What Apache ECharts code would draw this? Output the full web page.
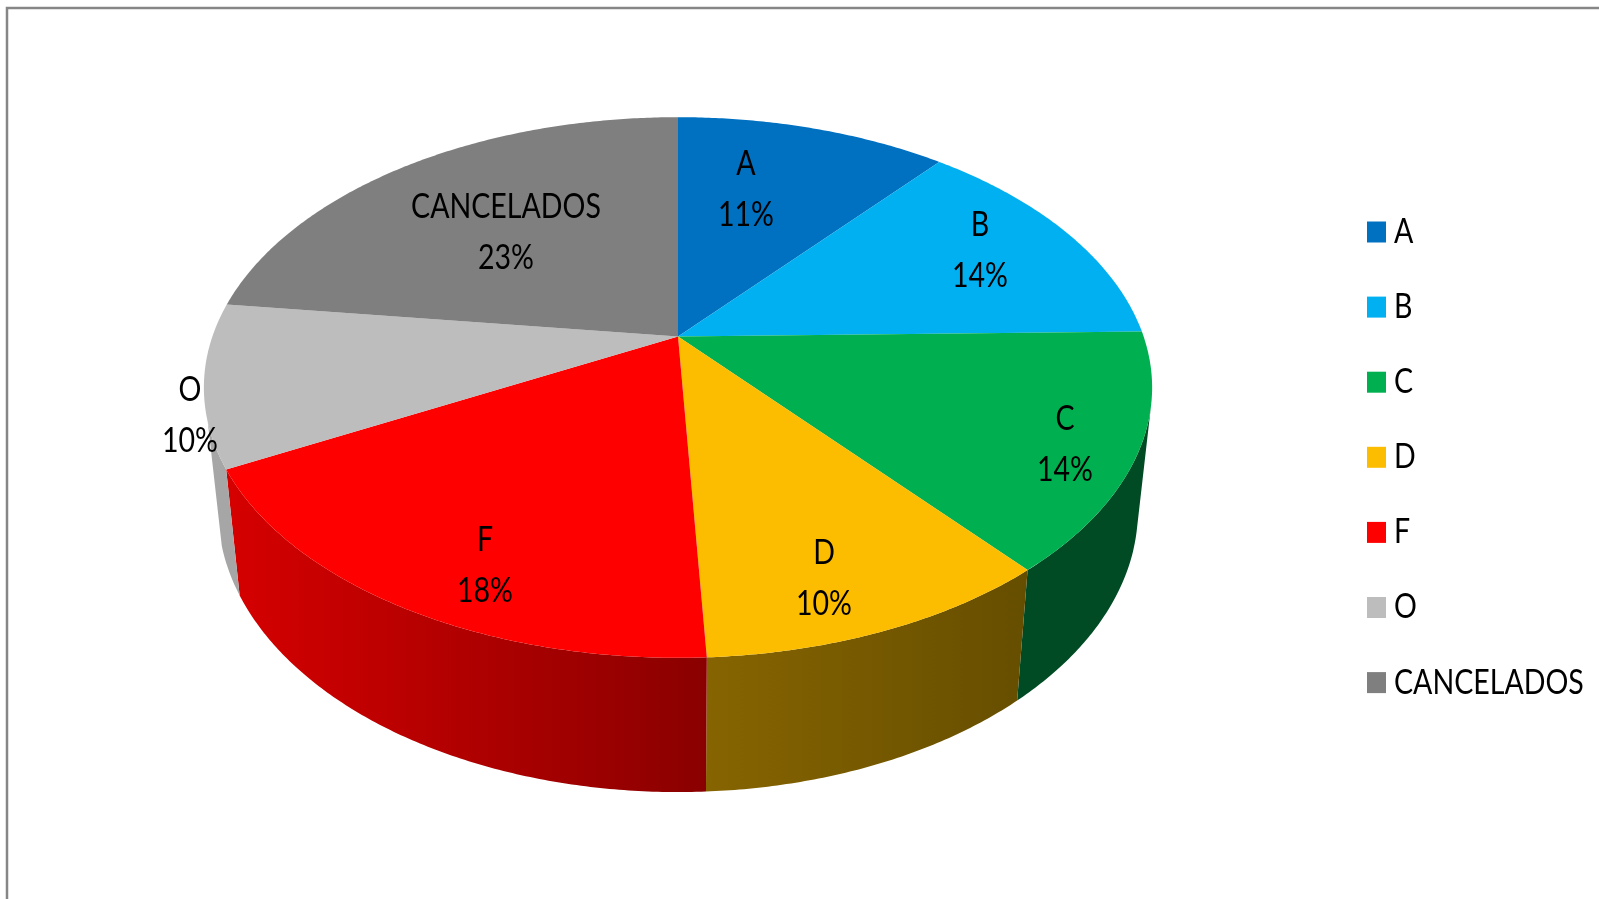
<!DOCTYPE html>
<html><head><meta charset="utf-8">
<style>html,body{margin:0;padding:0;background:#fff}#c{width:1599px;height:899px}</style>
<script src="https://cdn.jsdelivr.net/npm/echarts@6/dist/echarts.min.js"></script>
</head><body><div id="c"></div>
<script>
const categories = ['A','B','C','D','F','O','CANCELADOS'];
const values = [11.1,13.6,14.2,10.3,18.1,9.7,23];
const topColors = ['#0070C0','#00B0F0','#00B050','#FCBD00','#FF0000','#BDBDBD','#7F7F7F'];
const wallColors = [null,null,['#004A24','#004A24'],['#866400','#664E00'],['#D60000','#8A0000'],['#A6A6A6','#A6A6A6'],null];
const labelCentres = [[746,190],[980,251],[1065,445],[824,579],[485,566],[190,416],[506,233]];
const FONT = 'Lato,"Liberation Sans",sans-serif';
const FONT_SIZE = 34, TEXT_SQUEEZE = 0.84;

const total = values.reduce((s,v)=>s+v,0);
const P = {cx:678, cy:336.5, a:465.6, b:260.7, k:0.1887, y0:456.8, a2:451.7, b2:272};
const wallFrom = 105, wallTo = 252;
function rad(d){return d*Math.PI/180;}
function upperRim(d){const u=Math.sin(rad(d)),v=Math.cos(rad(d)),q=1+P.k*v;return [P.cx+P.a*u/q,P.cy-P.b*v/q];}
function lowerRim(d){const u=Math.sin(rad(d)),v=Math.cos(rad(d)),q=1+P.k*v;return [P.cx+P.a2*u/q,P.y0-P.b2*v/q];}
function arc(fn,a,b){const n=Math.max(2,Math.ceil(Math.abs(b-a)*2)),o=[];for(let i=0;i<=n;i++)o.push(fn(a+(b-a)*i/n));return o;}

const series = categories.map((name,i)=>{
  const start = values.slice(0,i).reduce((s,v)=>s+v,0)/total*360;
  const end = start + values[i]/total*360;
  return {
    type:'custom', name, coordinateSystem:'none', animation:false, silent:true,
    itemStyle:{color:topColors[i]},
    data:[values[i]],
    renderItem(params,api){
      const children=[];
      const w0=Math.max(start,wallFrom), w1=Math.min(end,wallTo);
      if(wallColors[i] && w1>w0){
        const pts=arc(upperRim,w0,w1).concat(arc(lowerRim,w1,w0));
        children.push({type:'polygon',z2:1,shape:{points:pts},style:{
          fill:new echarts.graphic.LinearGradient(0,0,1,0,[{offset:0,color:wallColors[i][0]},{offset:1,color:wallColors[i][1]}])}});
      }
      children.push({type:'polygon',z2:2,shape:{points:[[P.cx,P.cy]].concat(arc(upperRim,start,end))},style:{fill:topColors[i]}});
      const pct=Math.round(api.value(0)/total*100)+'%';
      children.push({type:'text',z2:3,x:labelCentres[i][0],y:labelCentres[i][1],scaleX:TEXT_SQUEEZE,style:{
        text:name+'\n'+pct,fill:'#000',font:FONT_SIZE+'px '+FONT,lineHeight:51,align:'center',verticalAlign:'middle'}});
      return {type:'group',children};
    }
  };
});

const chart = echarts.init(document.getElementById('c'),null,{renderer:'canvas'});
chart.setOption({
  animation:false,
  backgroundColor:'#fff',
  graphic:[{type:'rect',silent:true,shape:{x:7,y:8,width:1800,height:1100},style:{fill:'none',stroke:'#868686',lineWidth:2.5}}],
  legend:{show:true,orient:'vertical',left:1362,top:210,icon:'rect',itemWidth:19,itemHeight:21,itemGap:41.1,itemStyle:{borderWidth:0},
    data:categories,selectedMode:false,
    textStyle:{fontFamily:FONT,fontSize:FONT_SIZE,color:'#000',lineHeight:32,padding:[0,0,0,0]}},
  series
});
// The native legend has no horizontal text squeeze, so apply it to its own text elements.
chart.getZr().storage.traverse(el=>{
  if(el.type==='text' && el.style && categories.includes(el.style.text)){
    el.originX=el.style.x; el.scaleX=TEXT_SQUEEZE; el.x=3; el.markRedraw();
  }
});
chart.getZr().refresh();
</script></body></html>
